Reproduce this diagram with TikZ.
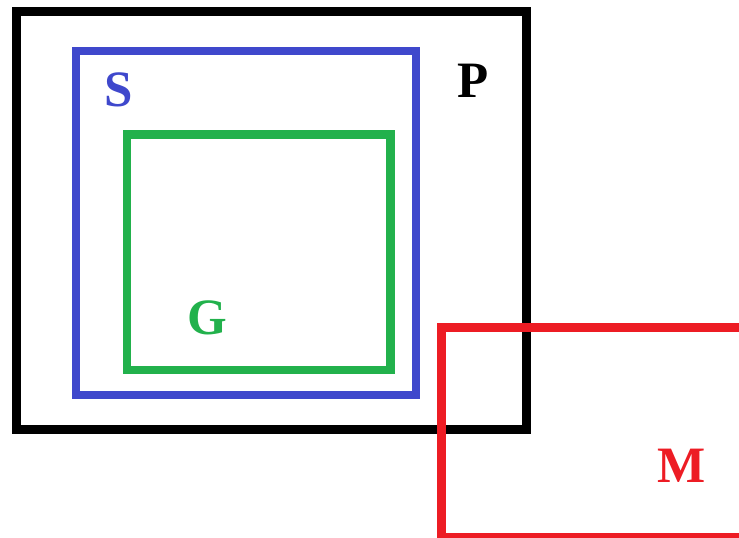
\documentclass[tikz,border=0pt]{standalone}
\usepackage{fontspec}
\setmainfont{Liberation Serif}
\definecolor{pblue}{RGB}{63,72,204}
\definecolor{pgreen}{RGB}{34,177,76}
\definecolor{pred}{RGB}{237,28,36}
\begin{document}
\begin{tikzpicture}[x=1pt,y=-1pt,
  setbox/.style={line width=#1, line join=miter},
  lbl/.style={font=\fontsize{51}{51}\selectfont\bfseries, inner sep=0pt, anchor=center}]
\useasboundingbox (0,0) rectangle (739,538);
\clip (0,0) rectangle (739,538);
\draw[setbox=9pt, black] (16.5,11.5) rectangle (526.5,429.5);
\draw[setbox=8pt, pblue] (76,51) rectangle (416,395);
\draw[setbox=8.5pt, pgreen] (127,134.5) rectangle (390.5,370);
\draw[setbox=9pt, pred] (441.5,327.5) rectangle (760,537.5);
\node[lbl, text=pblue] (S) at (119,90) {S};
\node[lbl, text=black] (P) at (473,81) {P};
\node[lbl, text=pgreen] (G) at (207.5,317.5) {G};
\node[lbl, text=pred] (M) at (681.5,465.5) {M};
\end{tikzpicture}
\end{document}
